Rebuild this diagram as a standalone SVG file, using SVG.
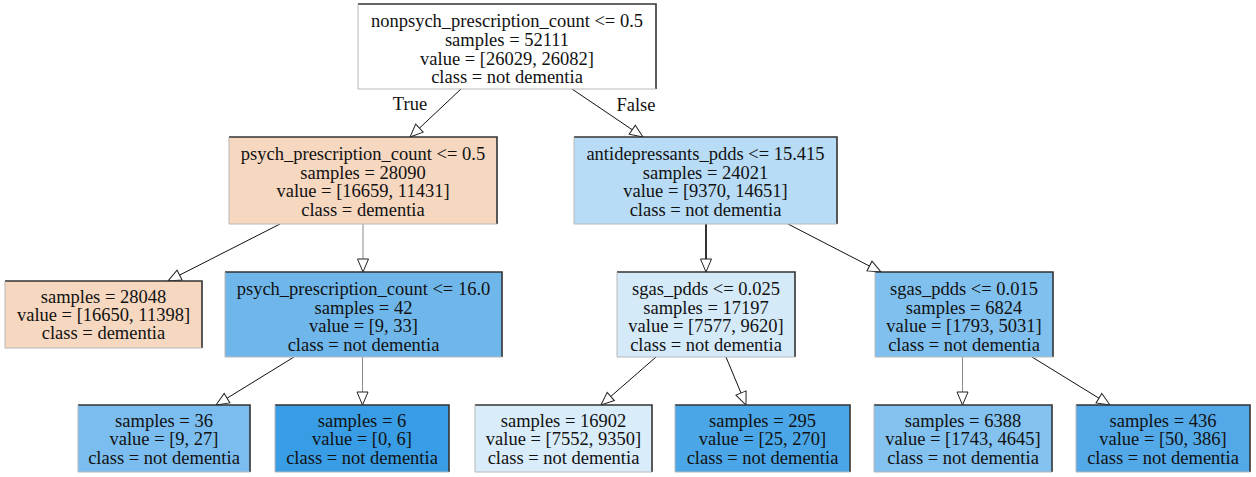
<svg xmlns="http://www.w3.org/2000/svg" width="1256" height="477" viewBox="0 0 1256 477" font-family="'Liberation Serif', Tinos, 'Times New Roman', 'DejaVu Serif', serif">
<style>
text{font-family:"Liberation Serif",Tinos,"Times New Roman","DejaVu Serif",serif;font-size:18.5px;fill:#111;text-anchor:middle}
.dk{fill:none;stroke:#333;stroke-width:1.6}
.lt{fill:none;stroke:#b8b8b8;stroke-width:1}
.e{fill:none;stroke:#111;stroke-width:1;marker-end:url(#ah)}
.eg{fill:none;stroke:#8a8a8a;stroke-width:1;marker-end:url(#ah)}
.ed{fill:none;stroke:#333;stroke-width:2;marker-end:url(#ah)}
</style>
<defs>
<marker id="ah" markerUnits="userSpaceOnUse" markerWidth="16" markerHeight="14" refX="13" refY="5.5" orient="auto" viewBox="-1 -1 16 14">
<path d="M0,0 L13,5.5 L0,11 Z" fill="#fff" stroke="#222" stroke-width="1"/>
</marker>
</defs>
<rect width="1256" height="477" fill="#fff"/>
<g id="edges">
<line class="e" x1="461" y1="89" x2="410" y2="137"/>
<line class="e" x1="572" y1="89" x2="643" y2="137"/>
<line class="e" x1="280" y1="224" x2="168" y2="281"/>
<line class="eg" x1="363" y1="224" x2="363" y2="272"/>
<line class="ed" x1="706" y1="224" x2="706" y2="272"/>
<line class="e" x1="788" y1="224" x2="881" y2="272"/>
<line class="e" x1="294" y1="357" x2="216" y2="405"/>
<line class="eg" x1="362.5" y1="357" x2="362.5" y2="405"/>
<line class="e" x1="656" y1="357" x2="601" y2="405"/>
<line class="e" x1="726" y1="357" x2="746" y2="405"/>
<line class="eg" x1="962.5" y1="357" x2="962.5" y2="405"/>
<line class="e" x1="1032" y1="357" x2="1110" y2="405"/>
<text x="410" y="110">True</text>
<text x="636" y="111">False</text>
</g>
<g id="node0">
<rect x="358" y="4" width="298" height="85" fill="#ffffff"/>
<polyline class="dk" points="358,4 656,4 656,89"/>
<polyline class="lt" points="358,4 358,89 656,89"/>
<text x="507" y="27">nonpsych_prescription_count &lt;= 0.5</text>
<text x="507" y="46">samples = 52111</text>
<text x="507" y="65">value = [26029, 26082]</text>
<text x="507" y="83">class = not dementia</text>
</g>
<g id="node1">
<rect x="229" y="137" width="268" height="87" fill="#f6d7c0"/>
<polyline class="dk" points="229,137 497,137 497,224"/>
<polyline class="lt" points="229,137 229,224 497,224"/>
<text x="363" y="160">psych_prescription_count &lt;= 0.5</text>
<text x="363" y="179">samples = 28090</text>
<text x="363" y="197">value = [16659, 11431]</text>
<text x="363" y="216">class = dementia</text>
</g>
<g id="node2">
<rect x="5" y="281" width="197" height="67" fill="#f6d7c0"/>
<polyline class="dk" points="5,281 202,281 202,348"/>
<polyline class="lt" points="5,281 5,348 202,348"/>
<text x="103.5" y="303">samples = 28048</text>
<text x="103.5" y="321">value = [16650, 11398]</text>
<text x="103.5" y="339">class = dementia</text>
</g>
<g id="node3">
<rect x="225" y="272" width="277" height="85" fill="#6fb7eb"/>
<polyline class="dk" points="225,272 502,272 502,357"/>
<polyline class="lt" points="225,272 225,357 502,357"/>
<text x="363.5" y="295">psych_prescription_count &lt;= 16.0</text>
<text x="363.5" y="314">samples = 42</text>
<text x="363.5" y="332">value = [9, 33]</text>
<text x="363.5" y="351">class = not dementia</text>
</g>
<g id="node4">
<rect x="78" y="405" width="172" height="67" fill="#7bbdee"/>
<polyline class="dk" points="78,405 250,405 250,472"/>
<polyline class="lt" points="78,405 78,472 250,472"/>
<text x="164" y="427">samples = 36</text>
<text x="164" y="445">value = [9, 27]</text>
<text x="164" y="464">class = not dementia</text>
</g>
<g id="node5">
<rect x="275" y="405" width="174" height="67" fill="#399de5"/>
<polyline class="dk" points="275,405 449,405 449,472"/>
<polyline class="lt" points="275,405 275,472 449,472"/>
<text x="362" y="427">samples = 6</text>
<text x="362" y="445">value = [0, 6]</text>
<text x="362" y="464">class = not dementia</text>
</g>
<g id="node6">
<rect x="574" y="137" width="263" height="87" fill="#b8dbf6"/>
<polyline class="dk" points="574,137 837,137 837,224"/>
<polyline class="lt" points="574,137 574,224 837,224"/>
<text x="705.5" y="160">antidepressants_pdds &lt;= 15.415</text>
<text x="705.5" y="179">samples = 24021</text>
<text x="705.5" y="197">value = [9370, 14651]</text>
<text x="705.5" y="216">class = not dementia</text>
</g>
<g id="node7">
<rect x="617" y="272" width="178" height="85" fill="#d5eaf9"/>
<polyline class="dk" points="617,272 795,272 795,357"/>
<polyline class="lt" points="617,272 617,357 795,357"/>
<text x="706" y="295">sgas_pdds &lt;= 0.025</text>
<text x="706" y="314">samples = 17197</text>
<text x="706" y="332">value = [7577, 9620]</text>
<text x="706" y="351">class = not dementia</text>
</g>
<g id="node8">
<rect x="475" y="405" width="177" height="67" fill="#d9ecfa"/>
<polyline class="dk" points="475,405 652,405 652,472"/>
<polyline class="lt" points="475,405 475,472 652,472"/>
<text x="563.5" y="427">samples = 16902</text>
<text x="563.5" y="445">value = [7552, 9350]</text>
<text x="563.5" y="464">class = not dementia</text>
</g>
<g id="node9">
<rect x="675" y="405" width="175" height="67" fill="#4ba6e7"/>
<polyline class="dk" points="675,405 850,405 850,472"/>
<polyline class="lt" points="675,405 675,472 850,472"/>
<text x="762.5" y="427">samples = 295</text>
<text x="762.5" y="445">value = [25, 270]</text>
<text x="762.5" y="464">class = not dementia</text>
</g>
<g id="node10">
<rect x="875" y="272" width="178" height="85" fill="#80c0ee"/>
<polyline class="dk" points="875,272 1053,272 1053,357"/>
<polyline class="lt" points="875,272 875,357 1053,357"/>
<text x="964" y="295">sgas_pdds &lt;= 0.015</text>
<text x="964" y="314">samples = 6824</text>
<text x="964" y="332">value = [1793, 5031]</text>
<text x="964" y="351">class = not dementia</text>
</g>
<g id="node11">
<rect x="874" y="405" width="178" height="67" fill="#83c1ef"/>
<polyline class="dk" points="874,405 1052,405 1052,472"/>
<polyline class="lt" points="874,405 874,472 1052,472"/>
<text x="963" y="427">samples = 6388</text>
<text x="963" y="445">value = [1743, 4645]</text>
<text x="963" y="464">class = not dementia</text>
</g>
<g id="node12">
<rect x="1076" y="405" width="174" height="67" fill="#53a9e8"/>
<polyline class="dk" points="1076,405 1250,405 1250,472"/>
<polyline class="lt" points="1076,405 1076,472 1250,472"/>
<text x="1163" y="427">samples = 436</text>
<text x="1163" y="445">value = [50, 386]</text>
<text x="1163" y="464">class = not dementia</text>
</g>
</svg>
